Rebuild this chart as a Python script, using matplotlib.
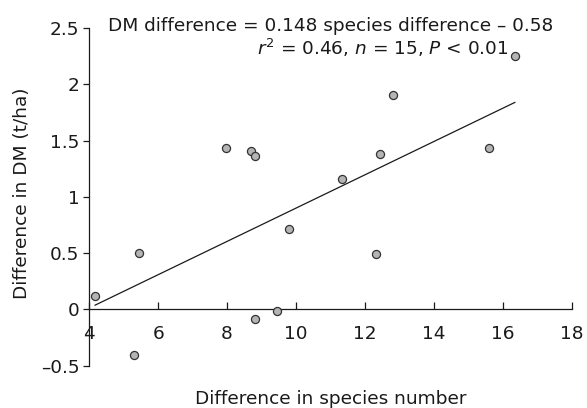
"""Scatter of DM difference vs species-number difference with fitted line."""

import matplotlib

matplotlib.use("Agg")
import matplotlib.pyplot as plt
import numpy as np

plt.rcParams["font.family"] = ["DejaVu Sans"]
plt.rcParams["mathtext.fontset"] = "dejavusans"

species_diff = [4.17, 5.44, 5.30, 8.81, 9.44, 9.81, 7.96, 8.70, 8.82,
                11.32, 16.35, 12.82, 12.43, 15.59, 12.31]
dm_diff = [0.12, 0.50, -0.41, -0.09, -0.015, 0.71, 1.43, 1.41, 1.36,
           1.16, 2.25, 1.91, 1.38, 1.43, 0.49]
slope = 0.148
intercept = -0.58

x_ticks = [4, 6, 8, 10, 12, 14, 16, 18]
y_ticks = [-0.5, 0, 0.5, 1, 1.5, 2, 2.5]
y_ticklabels = ["\u20130.5", "0", "0.5", "1", "1.5", "2", "2.5"]

FS = 13.3
INK = "#1a1a1a"

fig = plt.figure(figsize=(5.87, 4.08), dpi=100)
ax = fig.add_axes([0.152, 0.104, 0.822, 0.827])

fit_x = np.array([min(species_diff), max(species_diff)])
ax.plot(fit_x, slope * fit_x + intercept, color=INK, lw=0.9, zorder=2)
ax.scatter(species_diff, dm_diff, s=34, facecolor="#b4b4b4",
           edgecolor="#333333", linewidth=0.9, zorder=3)

ax.set_xlim(4, 18)
ax.set_ylim(-0.5, 2.5)
ax.spines["top"].set_visible(False)
ax.spines["right"].set_visible(False)
ax.spines["bottom"].set_position(("data", 0))
for side in ("left", "bottom"):
    ax.spines[side].set_linewidth(0.9)
    ax.spines[side].set_color(INK)

ax.set_xticks(x_ticks)
ax.set_yticks(y_ticks)
ax.set_yticklabels(y_ticklabels)
ax.tick_params(axis="x", direction="in", length=5, width=0.9, pad=11,
               labelsize=FS, color=INK, labelcolor=INK)
ax.tick_params(axis="y", direction="out", length=4, width=0.9, pad=3,
               labelsize=FS, color=INK, labelcolor=INK)

fig.text(0.184, 0.925, "DM difference = 0.148 species difference \u2013 0.58",
         fontsize=FS, va="baseline", ha="left", color=INK)
fig.text(0.437, 0.865, r"$r^2$ = 0.46, $n$ = 15, $P$ < 0.01",
         fontsize=FS, va="baseline", ha="left", color=INK)

fig.text(0.563, 0.011, "Difference in species number", fontsize=FS,
         ha="center", va="baseline", color=INK)
fig.text(0.037, 0.526, "Difference in DM (t/ha)", fontsize=FS, rotation=90,
         ha="center", va="center", color=INK)

fig.savefig("out.png", dpi=100)
